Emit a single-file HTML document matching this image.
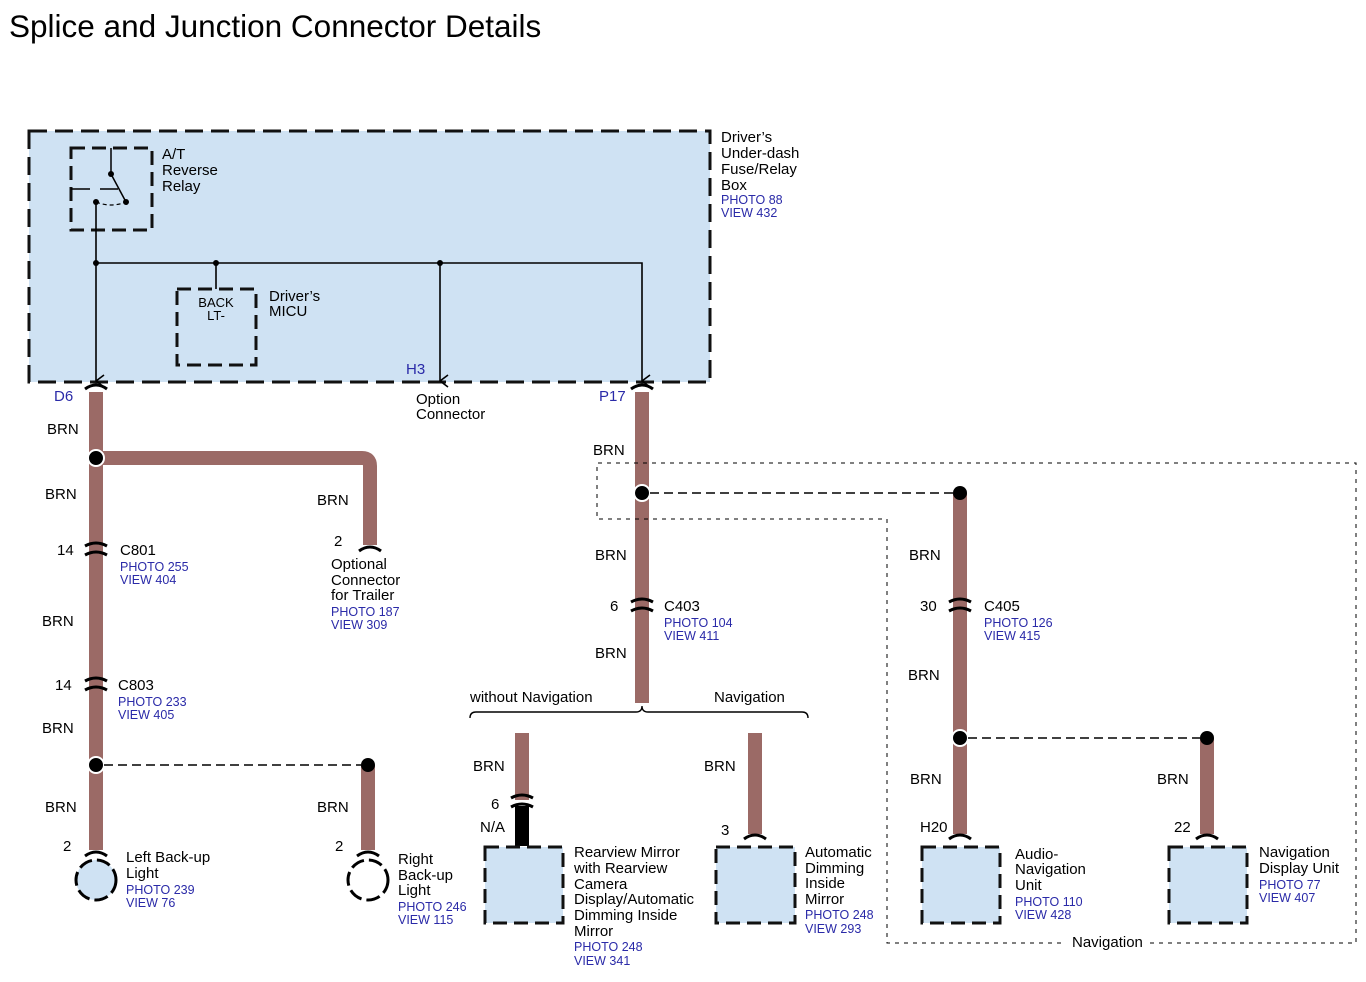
<!DOCTYPE html>
<html><head><meta charset="utf-8"><style>
html,body{margin:0;padding:0;background:#fff;}
svg{display:block;}
text{font-family:"Liberation Sans",Arial,sans-serif;font-size:15px;fill:#000;}
.b{fill:#2a2aa8;font-size:12.5px;}
.t{font-size:31.5px;}
.s{font-size:13px;}
</style></head><body>
<svg width="1366" height="982" viewBox="0 0 1366 982" xmlns="http://www.w3.org/2000/svg">
<defs>
<marker id="ar" markerWidth="14" markerHeight="10" refX="7" refY="9" orient="auto" markerUnits="userSpaceOnUse">
<path d="M1,1 L7,9 L13,1" fill="none" stroke="#000" stroke-width="1.6"/></marker>
<g id="conn"><path d="M-11,-3 Q0,-9 11,-3" fill="none" stroke="#000" stroke-width="3"/><path d="M-11,6 Q0,0 11,6" fill="none" stroke="#000" stroke-width="3"/></g>
<g id="cap"><path d="M-11,3 Q0,-5 11,3" fill="none" stroke="#000" stroke-width="3"/></g>
</defs>
<text x="9" y="37" class="t">Splice and Junction Connector Details</text>

<rect x="29" y="131" width="681" height="251" fill="#cfe2f3" stroke="#111" stroke-width="3" stroke-dasharray="18,8"/>
<rect x="71" y="148" width="81" height="82" fill="none" stroke="#111" stroke-width="3" stroke-dasharray="14,7"/>
<line x1="111" y1="148" x2="111" y2="174" stroke="#000" stroke-width="1.5"/>
<line x1="111" y1="174" x2="126" y2="202" stroke="#000" stroke-width="1.5"/>
<circle cx="111" cy="174" r="3" fill="#000"/><circle cx="126" cy="202" r="3" fill="#000"/><circle cx="96" cy="202" r="3" fill="#000"/>
<path d="M96,202 Q111,208 126,202" fill="none" stroke="#000" stroke-width="1.2" stroke-dasharray="4,3"/>
<line x1="71" y1="189" x2="90" y2="189" stroke="#000" stroke-width="1.5"/>
<line x1="100" y1="189" x2="118" y2="189" stroke="#000" stroke-width="1.5"/>
<text x="162" y="159">A/T</text><text x="162" y="175">Reverse</text><text x="162" y="191">Relay</text>
<line x1="96" y1="202" x2="96" y2="381" stroke="#000" stroke-width="1.6" marker-end="url(#ar)"/>
<polyline points="96,263 642,263 642,381" fill="none" stroke="#000" stroke-width="1.6" marker-end="url(#ar)"/>
<line x1="440" y1="263" x2="440" y2="381" stroke="#000" stroke-width="1.6" marker-end="url(#ar)"/>
<line x1="216" y1="263" x2="216" y2="289" stroke="#000" stroke-width="1.6"/>
<circle cx="96" cy="263" r="3" fill="#000"/><circle cx="216" cy="263" r="3" fill="#000"/><circle cx="440" cy="263" r="3" fill="#000"/>
<rect x="177" y="289" width="79" height="76" fill="none" stroke="#111" stroke-width="3" stroke-dasharray="14,7"/>
<text x="216" y="307" class="s" text-anchor="middle">BACK</text><text x="216" y="320" class="s" text-anchor="middle">LT-</text>
<text x="269" y="301">Driver’s</text><text x="269" y="316">MICU</text>
<text x="721" y="142">Driver’s</text><text x="721" y="158">Under-dash</text><text x="721" y="174">Fuse/Relay</text><text x="721" y="190">Box</text>
<text x="721" y="204" class="b">PHOTO 88</text><text x="721" y="217" class="b">VIEW 432</text>
<text x="406" y="374" style="fill:#2a2aa8">H3</text>
<text x="416" y="404">Option</text><text x="416" y="419">Connector</text>

<g stroke="#9b6a66" stroke-width="14" fill="none">
<line x1="96" y1="392" x2="96" y2="850"/>
<path d="M96,458 L362,458 Q370,458 370,466 L370,545"/>
<line x1="368" y1="765" x2="368" y2="850"/>
<line x1="642" y1="392" x2="642" y2="703"/>
<line x1="522" y1="733" x2="522" y2="800"/>
<line x1="755" y1="733" x2="755" y2="834"/>
<line x1="960" y1="493" x2="960" y2="834"/>
<line x1="1207" y1="738" x2="1207" y2="834"/>
</g>
<line x1="522" y1="806" x2="522" y2="846" stroke="#000" stroke-width="14"/>
<use href="#cap" x="96" y="386"/><use href="#cap" x="642" y="386"/>
<use href="#conn" x="96" y="549"/><use href="#conn" x="96" y="684"/>
<use href="#conn" x="642" y="605"/><use href="#conn" x="960" y="605"/>
<use href="#conn" x="522" y="801"/>
<use href="#cap" x="370" y="548"/>
<use href="#cap" x="96" y="853"/><use href="#cap" x="368" y="853"/>
<use href="#cap" x="755" y="836"/><use href="#cap" x="960" y="836"/><use href="#cap" x="1207" y="836"/>
<circle cx="96" cy="458" r="8" fill="#000" stroke="#fff" stroke-width="2"/>
<circle cx="96" cy="765" r="8" fill="#000" stroke="#fff" stroke-width="2"/>
<circle cx="368" cy="765" r="7" fill="#000"/>
<line x1="104" y1="765" x2="361" y2="765" stroke="#000" stroke-width="1.6" stroke-dasharray="9,5"/>
<circle cx="642" cy="493" r="8" fill="#000" stroke="#fff" stroke-width="2"/>
<line x1="650" y1="493" x2="953" y2="493" stroke="#000" stroke-width="1.6" stroke-dasharray="9,5"/>
<circle cx="960" cy="493" r="7" fill="#000"/>
<circle cx="960" cy="738" r="8" fill="#000" stroke="#fff" stroke-width="2"/>
<line x1="968" y1="738" x2="1200" y2="738" stroke="#000" stroke-width="1.6" stroke-dasharray="9,5"/>
<circle cx="1207" cy="738" r="7" fill="#000"/>
<path d="M1150,943 L1356,943 L1356,463 L597,463 L597,519 L887,519 L887,943 L1065,943" fill="none" stroke="#000" stroke-width="1" stroke-dasharray="4,5"/>
<text x="1072" y="947">Navigation</text>
<path d="M470,718 Q470,712 476,712 L636,712 Q642,712 642,706 Q642,712 648,712 L802,712 Q808,712 808,718" fill="none" stroke="#000" stroke-width="1.4"/>
<text x="470" y="702">without Navigation</text><text x="714" y="702">Navigation</text>
<circle cx="96" cy="880" r="20" fill="#cfe2f3" stroke="#000" stroke-width="3" stroke-dasharray="14,5"/>
<circle cx="368" cy="880" r="20" fill="#fff" stroke="#000" stroke-width="3" stroke-dasharray="14,5"/>
<g fill="#cfe2f3" stroke="#111" stroke-width="3" stroke-dasharray="14,7">
<rect x="485" y="847" width="78" height="76"/>
<rect x="716" y="847" width="79" height="76"/>
<rect x="922" y="847" width="78" height="76"/>
<rect x="1169" y="847" width="78" height="76"/>
</g>
<text x="54" y="401" style="fill:#2a2aa8">D6</text><text x="599" y="401" style="fill:#2a2aa8">P17</text>
<text x="47" y="434">BRN</text><text x="45" y="499">BRN</text><text x="317" y="505">BRN</text>
<text x="42" y="626">BRN</text><text x="42" y="733">BRN</text><text x="45" y="812">BRN</text><text x="317" y="812">BRN</text>
<text x="593" y="455">BRN</text><text x="595" y="560">BRN</text><text x="595" y="658">BRN</text>
<text x="473" y="771">BRN</text><text x="704" y="771">BRN</text>
<text x="909" y="560">BRN</text><text x="908" y="680">BRN</text><text x="910" y="784">BRN</text><text x="1157" y="784">BRN</text>
<text x="57" y="555">14</text><text x="120" y="555">C801</text><text x="120" y="571" class="b">PHOTO 255</text><text x="120" y="584" class="b">VIEW 404</text>
<text x="55" y="690">14</text><text x="118" y="690">C803</text><text x="118" y="706" class="b">PHOTO 233</text><text x="118" y="719" class="b">VIEW 405</text>
<text x="334" y="546">2</text><text x="331" y="569">Optional</text><text x="331" y="585">Connector</text><text x="331" y="600">for Trailer</text>
<text x="331" y="616" class="b">PHOTO 187</text><text x="331" y="629" class="b">VIEW 309</text>
<text x="610" y="611">6</text><text x="664" y="611">C403</text><text x="664" y="627" class="b">PHOTO 104</text><text x="664" y="640" class="b">VIEW 411</text>
<text x="920" y="611">30</text><text x="984" y="611">C405</text><text x="984" y="627" class="b">PHOTO 126</text><text x="984" y="640" class="b">VIEW 415</text>
<text x="63" y="851">2</text><text x="126" y="862">Left Back-up</text><text x="126" y="878">Light</text><text x="126" y="894" class="b">PHOTO 239</text><text x="126" y="907" class="b">VIEW 76</text>
<text x="335" y="851">2</text><text x="398" y="864">Right</text><text x="398" y="880">Back-up</text><text x="398" y="895">Light</text><text x="398" y="911" class="b">PHOTO 246</text><text x="398" y="924" class="b">VIEW 115</text>
<text x="491" y="809">6</text><text x="480" y="832">N/A</text>
<text x="574" y="857">Rearview Mirror</text><text x="574" y="873">with Rearview</text><text x="574" y="889">Camera</text><text x="574" y="904">Display/Automatic</text><text x="574" y="920">Dimming Inside</text><text x="574" y="936">Mirror</text>
<text x="574" y="951" class="b">PHOTO 248</text><text x="574" y="965" class="b">VIEW 341</text>
<text x="721" y="835">3</text>
<text x="805" y="857">Automatic</text><text x="805" y="873">Dimming</text><text x="805" y="888">Inside</text><text x="805" y="904">Mirror</text><text x="805" y="919" class="b">PHOTO 248</text><text x="805" y="933" class="b">VIEW 293</text>
<text x="920" y="832">H20</text><text x="1174" y="832">22</text>
<text x="1015" y="859">Audio-</text><text x="1015" y="874">Navigation</text><text x="1015" y="890">Unit</text><text x="1015" y="906" class="b">PHOTO 110</text><text x="1015" y="919" class="b">VIEW 428</text>
<text x="1259" y="857">Navigation</text><text x="1259" y="873">Display Unit</text><text x="1259" y="889" class="b">PHOTO 77</text><text x="1259" y="902" class="b">VIEW 407</text>
</svg>
</body></html>
